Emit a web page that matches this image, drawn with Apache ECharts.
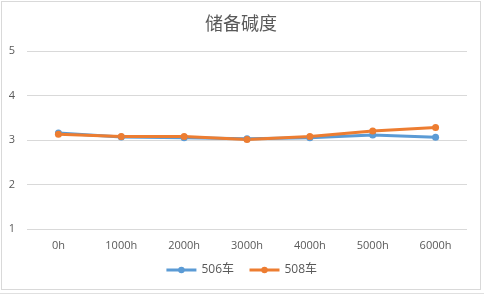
<!DOCTYPE html>
<html><head><meta charset="utf-8">
<script src="https://cdn.jsdelivr.net/npm/echarts@6/dist/echarts.min.js"></script>
<style>
html,body{margin:0;padding:0;background:#fff;width:484px;height:296px;overflow:hidden;}
#c{position:absolute;left:1px;top:1px;width:478px;height:287px;border:1px solid #d9d9d9;background:#fff;}
#line{position:absolute;left:0;top:293px;width:484px;height:1px;background:#e0e0e0;}
</style></head>
<body>
<div id="line"></div>
<div id="c"></div>
<script>
const categories = ['0h','1000h','2000h','3000h','4000h','5000h','6000h'];
const series506 = [3.16, 3.07, 3.05, 3.03, 3.05, 3.11, 3.06];
const series508 = [3.13, 3.08, 3.08, 3.01, 3.08, 3.20, 3.28];
const seriesNames = ['506车','508车'];
const yTicks = {min:1, max:5, interval:1};

const chart = echarts.init(document.getElementById('c'), null, {renderer:'canvas'});
const font = '"Open Sans", "Noto Sans CJK SC", sans-serif';
chart.setOption({
  animation:false,
  title:{text:'储备碱度', left:'center', top:7,
    textStyle:{fontSize:18, fontWeight:'normal', color:'#595959', fontFamily:'"Noto Sans CJK SC", sans-serif'}},
  grid:{left:25, right:13, top:49, bottom:60},
  legend:{bottom:8, left:'center', itemWidth:30, itemHeight:8, itemGap:14,
    lineStyle:{width:3},
    textStyle:{fontSize:12, color:'#595959', fontFamily:font},
    data:seriesNames},
  xAxis:{type:'category', data:categories, boundaryGap:true,
    axisLine:{show:false}, axisTick:{show:false},
    axisLabel:{color:'#595959', fontSize:11, margin:11, fontFamily:font}},
  yAxis:{type:'value', min:yTicks.min, max:yTicks.max, interval:yTicks.interval,
    axisLine:{show:false}, axisTick:{show:false},
    axisLabel:{color:'#595959', fontSize:11, margin:12, fontFamily:font},
    splitLine:{lineStyle:{color:'#d9d9d9', width:1}}},
  series:[
    {name:seriesNames[0], type:'line', data:series506, symbol:'circle', symbolSize:7,
     lineStyle:{width:3, color:'#5B9BD5'}, itemStyle:{color:'#5B9BD5'}},
    {name:seriesNames[1], type:'line', data:series508, symbol:'circle', symbolSize:7,
     lineStyle:{width:3, color:'#ED7D31'}, itemStyle:{color:'#ED7D31'}}
  ]
});
</script>
</body></html>
